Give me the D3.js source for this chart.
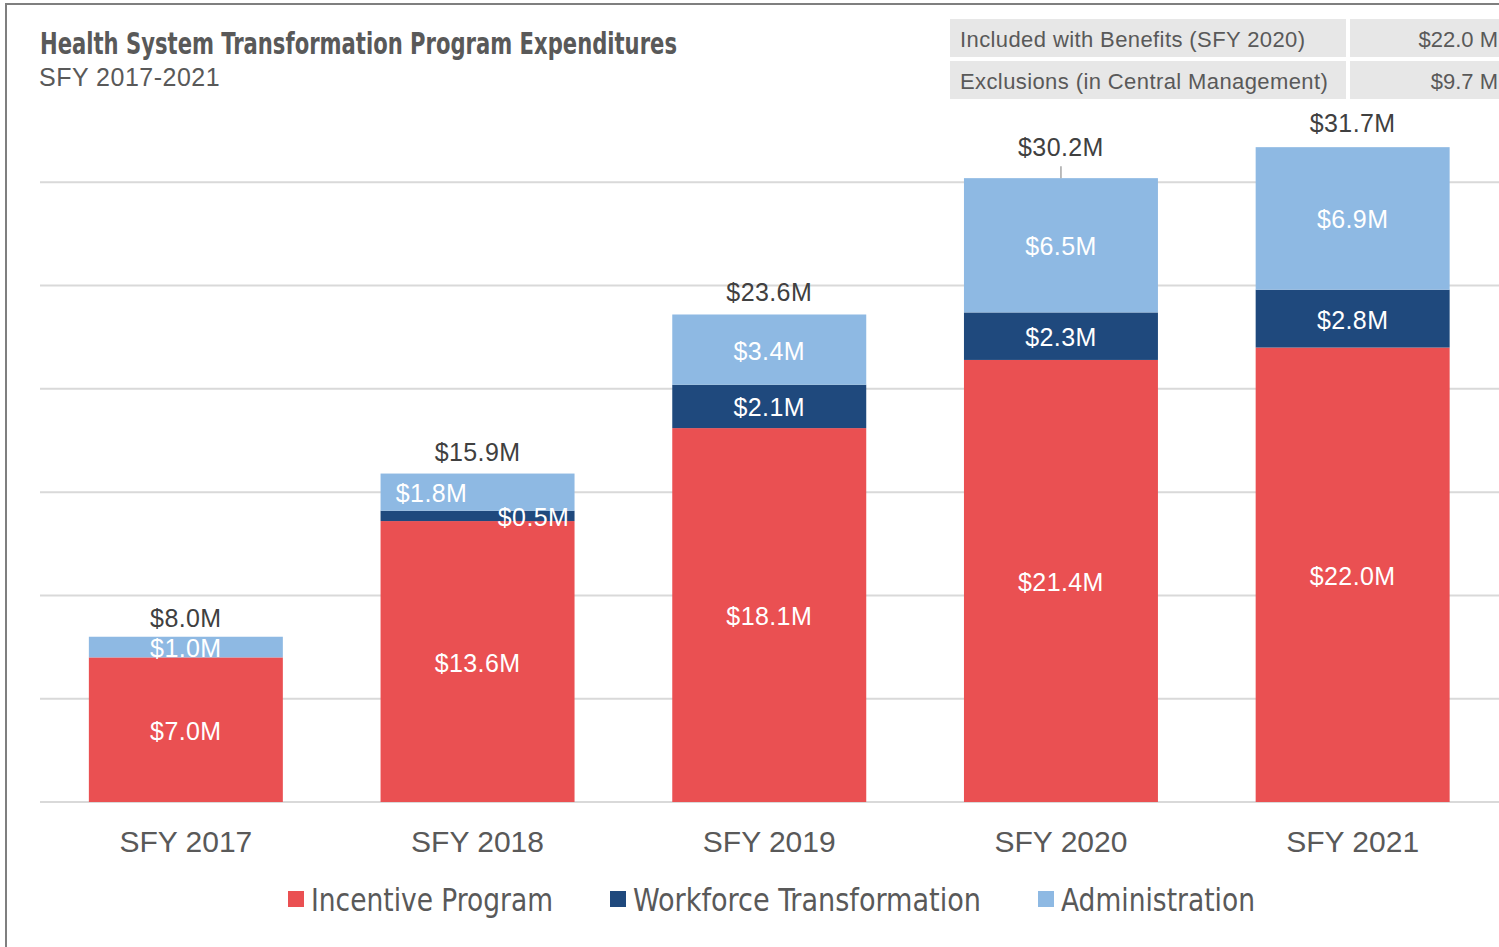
<!DOCTYPE html>
<html>
<head>
<meta charset="utf-8">
<script src="https://cdn.jsdelivr.net/npm/d3@7"></script>
<style>
  body { margin: 0; background: #fff; }
  svg { display: block; }
  text { font-family: "Liberation Sans", Arial, sans-serif; }
  .narrow { font-family: "Liberation Sans Narrow", "DejaVu Sans Condensed", sans-serif; }
  .num { font-size: 25px; letter-spacing: 0.4px; }
</style>
</head>
<body>
<script>
var years = ["SFY 2017", "SFY 2018", "SFY 2019", "SFY 2020", "SFY 2021"];
var incentive = [7.0, 13.6, 18.1, 21.4, 22.0];
var workforce = [0, 0.5, 2.1, 2.3, 2.8];
var admin = [1.0, 1.8, 3.4, 6.5, 6.9];
var seriesNames = ["Incentive Program", "Workforce Transformation", "Administration"];
var colors = ["#EA5052", "#1F497D", "#8EB9E3"];
var yTicks = [0, 5, 10, 15, 20, 25, 30];
var tableRows = [["Included with Benefits (SFY 2020)", "$22.0 M"], ["Exclusions (in Central Management)", "$9.7 M"]];

var w = 1499, h = 947;
var svg = d3.select("body").append("svg").attr("width", w).attr("height", h);

// frame
svg.append("path").attr("d", "M6,947V4H1499").attr("fill", "none")
    .attr("stroke", "#7F7F7F").attr("stroke-width", 2);

var x = d3.scaleBand().domain(years).range([40, 1498.5]).paddingInner(0.335).paddingOuter(0.1675);
var y = d3.scaleLinear().domain([0, 35]).range([802, 79]);

// gridlines
svg.append("g").selectAll("line").data(yTicks).enter().append("line")
    .attr("x1", 40).attr("x2", 1499)
    .attr("y1", function(d) { return y(d); }).attr("y2", function(d) { return y(d); })
    .attr("stroke", "#D9D9D9").attr("stroke-width", 2);

var rows = years.map(function(yr, i) {
    return { year: yr, incentive: incentive[i], workforce: workforce[i], admin: admin[i] };
});
var keys = ["incentive", "workforce", "admin"];
var stack = d3.stack().keys(keys)(rows);

var layers = svg.append("g").selectAll("g").data(stack).enter().append("g")
    .attr("fill", function(d, i) { return colors[i]; });

layers.selectAll("rect").data(function(d) { return d; }).enter().append("rect")
    .attr("x", function(d) { return x(d.data.year); })
    .attr("width", x.bandwidth())
    .attr("y", function(d) { return y(d[1]); })
    .attr("height", function(d) { return y(d[0]) - y(d[1]); });

// segment labels
stack.forEach(function(layer, li) {
    layer.forEach(function(d, i) {
        var v = d[1] - d[0];
        if (v <= 0) return;
        var dx = 0;
        if (i === 1 && li === 2) dx = -46;
        if (i === 1 && li === 1) dx = 56;
        svg.append("text").attr("class", "num")
            .attr("x", x(d.data.year) + x.bandwidth() / 2 + dx)
            .attr("y", (y(d[0]) + y(d[1])) / 2 + 1)
            .attr("text-anchor", "middle").attr("dominant-baseline", "central")
            .attr("fill", "#fff")
            .text("$" + v.toFixed(1) + "M");
    });
});

// totals
rows.forEach(function(r, i) {
    var total = r.incentive + r.workforce + r.admin;
    var top = y(total);
    var cx = x(r.year) + x.bandwidth() / 2;
    var off = i === 3 ? 31 : (i === 0 ? 19 : (i === 4 ? 24 : 22));
    if (i === 3) {
        svg.append("line").attr("x1", cx).attr("x2", cx)
            .attr("y1", top - 12).attr("y2", top)
            .attr("stroke", "#A6A6A6").attr("stroke-width", 1.5);
    }
    svg.append("text").attr("class", "num").attr("x", cx).attr("y", top - off)
        .attr("text-anchor", "middle").attr("dominant-baseline", "central")
        .attr("fill", "#404040")
        .text("$" + total.toFixed(1) + "M");
});

// x axis labels
svg.append("g").selectAll("text").data(years).enter().append("text")
    .attr("x", function(d) { return x(d) + x.bandwidth() / 2; })
    .attr("y", 841).attr("text-anchor", "middle").attr("dominant-baseline", "central")
    .attr("fill", "#595959").style("font-size", "30px")
    .text(function(d) { return d; });

// title
svg.append("text").attr("class", "narrow").attr("x", 40).attr("y", 54)
    .attr("fill", "#595959").style("font-size", "30px").style("font-weight", "bold")
    .attr("textLength", 637).attr("lengthAdjust", "spacingAndGlyphs")
    .text("Health System Transformation Program Expenditures");
svg.append("text").attr("x", 39).attr("y", 86)
    .attr("fill", "#595959").style("font-size", "25px").style("letter-spacing", "0.5px")
    .text("SFY 2017-2021");

// table
var tbl = svg.append("g");
tableRows.forEach(function(r, i) {
    var ty = 19 + i * 42;
    tbl.append("rect").attr("x", 950).attr("y", ty).attr("width", 396).attr("height", 38).attr("fill", "#E7E7E7");
    tbl.append("rect").attr("x", 1350).attr("y", ty).attr("width", 160).attr("height", 38).attr("fill", "#E7E7E7");
    tbl.append("text").attr("x", 960).attr("y", ty + 20).attr("dominant-baseline", "central")
        .attr("fill", "#595959").style("font-size", "22px").style("letter-spacing", "0.4px").text(r[0]);
    tbl.append("text").attr("x", 1498).attr("y", ty + 20).attr("dominant-baseline", "central")
        .attr("text-anchor", "end").attr("fill", "#595959").style("font-size", "22px").text(r[1]);
});

// legend
var legendX = [288, 610, 1038];
var legendW = [242, 348, 194];
seriesNames.forEach(function(n, i) {
    svg.append("rect").attr("x", legendX[i]).attr("y", 891).attr("width", 16).attr("height", 16).attr("fill", colors[i]);
    svg.append("text").attr("class", "narrow").attr("x", legendX[i] + 23).attr("y", 900)
        .attr("dominant-baseline", "central").attr("fill", "#595959").style("font-size", "32px")
        .attr("textLength", legendW[i]).attr("lengthAdjust", "spacingAndGlyphs")
        .text(n);
});
</script>
</body>
</html>
